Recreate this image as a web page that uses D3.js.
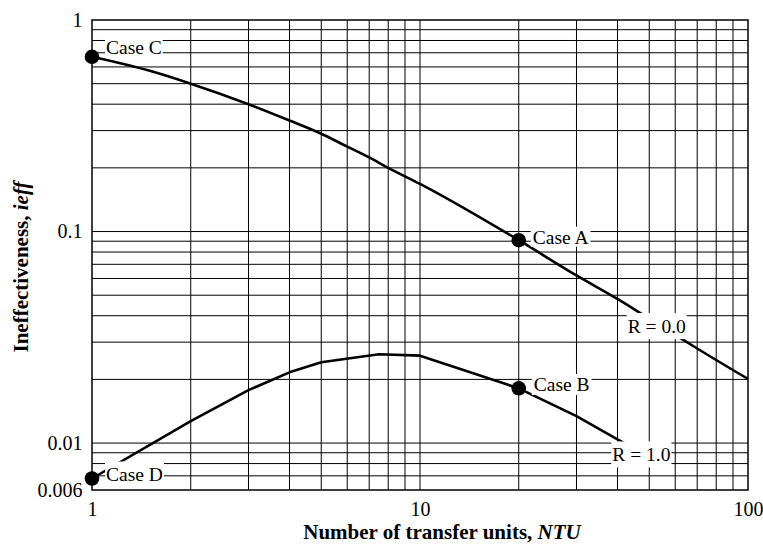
<!DOCTYPE html>
<html>
<head>
<meta charset="utf-8">
<script src="https://cdn.jsdelivr.net/npm/d3@7/dist/d3.min.js"></script>
<style>
  html, body { margin: 0; padding: 0; background: #fff; }
  svg { display: block; }
  text { font-family: "Liberation Serif", "Times New Roman", Times, serif; fill: #000; }
</style>
</head>
<body>
<svg id="chart" width="763" height="554"></svg>
<script>
// ---- data ----
const ntuR0  = [1, 1.5, 2, 3, 4, 5, 6, 7, 8, 10, 20, 30, 40, 50, 60, 70, 100];
const ieffR0 = [0.67, 0.575, 0.50, 0.40, 0.335, 0.29, 0.252, 0.224, 0.20, 0.168, 0.091, 0.062, 0.048, 0.0387, 0.0325, 0.028, 0.0201];

const ntuR1  = [1, 2, 3, 4, 5, 7.5, 10, 20, 30, 40, 50];
const ieffR1 = [0.0068, 0.0127, 0.0178, 0.0216, 0.0241, 0.0263, 0.0259, 0.01815, 0.0134, 0.0104, 0.0086];

const caseNames = ["Case C", "Case A", "Case B", "Case D"];
const caseNTU   = [1, 20, 20, 1];
const caseIeff  = [0.67, 0.091, 0.01815, 0.0068];

const curveLabels = ["R = 0.0", "R = 1.0"];

const xTickValues = [1, 10, 100];
const xTickLabels = ["1", "10", "100"];
const yTickValues = [0.006, 0.01, 0.1, 1];
const yTickLabels = ["0.006", "0.01", "0.1", "1"];

(function () {
// ---- layout ----
const mLeft = 92, mRight = 748, mTop = 20, mBottom = 490;
const svg = d3.select("#chart");

const x = d3.scaleLog().domain([1, 100]).range([mLeft, mRight]);
const y = d3.scaleLog().domain([0.006, 1]).range([mBottom, mTop]);

// grid
const grid = svg.append("g").attr("stroke", "#000").attr("stroke-width", 1);
x.ticks().filter(v => v > 1 && v < 100).forEach(v => {
  grid.append("line").attr("x1", x(v)).attr("x2", x(v)).attr("y1", mTop).attr("y2", mBottom);
});
y.ticks().filter(v => v > 0.006 && v < 1).forEach(v => {
  grid.append("line").attr("x1", mLeft).attr("x2", mRight).attr("y1", y(v)).attr("y2", y(v));
});

// border
svg.append("rect").attr("x", mLeft).attr("y", mTop)
  .attr("width", mRight - mLeft).attr("height", mBottom - mTop)
  .attr("fill", "none").attr("stroke", "#000").attr("stroke-width", 1.5);

// axes labels
const xAxis = d3.axisBottom(x).tickValues(xTickValues)
  .tickFormat((d, i) => xTickLabels[i]).tickSize(0).tickPadding(12);
const gx = svg.append("g").attr("transform", `translate(0,${mBottom})`).call(xAxis);
gx.select(".domain").remove();
gx.selectAll("text").attr("font-size", 20).attr("font-family", "Liberation Serif, Times New Roman, serif").attr("fill", "#000");

const yAxis = d3.axisLeft(y).tickValues(yTickValues)
  .tickFormat((d, i) => yTickLabels[i]).tickSize(0).tickPadding(9.5);
const gy = svg.append("g").attr("transform", `translate(${mLeft},0)`).call(yAxis);
gy.select(".domain").remove();
gy.selectAll("text").attr("font-size", 20).attr("font-family", "Liberation Serif, Times New Roman, serif").attr("fill", "#000");

// curves
const lineSmooth = d3.line().x(d => x(d[0])).y(d => y(d[1])).curve(d3.curveMonotoneX);
const lineStraight = d3.line().x(d => x(d[0])).y(d => y(d[1]));
svg.append("path").datum(d3.zip(ntuR0, ieffR0)).attr("d", lineSmooth)
  .attr("fill", "none").attr("stroke", "#000").attr("stroke-width", 2.6).attr("stroke-linejoin", "round");
svg.append("path").datum(d3.zip(ntuR1, ieffR1)).attr("d", lineStraight)
  .attr("fill", "none").attr("stroke", "#000").attr("stroke-width", 2.6).attr("stroke-linejoin", "round");

// labels with white boxes
function boxedLabel(txt, tx, ty, padX, padTop, padBottom) {
  const g = svg.append("g");
  const rect = g.append("rect").attr("fill", "#fff");
  const t = g.append("text").attr("x", tx).attr("y", ty).attr("font-size", 19.5).text(txt);
  const bb = t.node().getBBox();
  rect.attr("x", bb.x - padX).attr("y", bb.y - padTop)
      .attr("width", bb.width + 2 * padX).attr("height", bb.height + padTop + padBottom);
}

const caseOffsets = [[14, -2.7, 1, 0, -1], [14, 3.5, 2, 0, -1], [15, 2.7, 2, 0, 0], [14, 2, 1, 2, 0]];
caseNames.forEach((n, i) => {
  const o = caseOffsets[i];
  boxedLabel(n, x(caseNTU[i]) + o[0], y(caseIeff[i]) + o[1], o[2], o[3], o[4]);
});

// curve labels (centered at a chart position)
const curveLabelPos = [[52.7, 0.0355], [47.3, 0.00878]];
curveLabels.forEach((n, i) => {
  const g = svg.append("g");
  const rect = g.append("rect").attr("fill", "#fff");
  const t = g.append("text").attr("x", x(curveLabelPos[i][0])).attr("y", y(curveLabelPos[i][1]) + 6.4)
    .attr("text-anchor", "middle").attr("font-size", 19.5).text(n);
  const bb = t.node().getBBox();
  rect.attr("x", bb.x - 1).attr("y", bb.y - 3).attr("width", bb.width + 2).attr("height", bb.height + 5);
});

// dots
caseNames.forEach((n, i) => {
  svg.append("circle").attr("cx", x(caseNTU[i])).attr("cy", y(caseIeff[i])).attr("r", 7.3).attr("fill", "#000");
});

// axis titles
const xt = svg.append("text").attr("x", 442).attr("y", 539).attr("text-anchor", "middle")
  .attr("font-size", 21).attr("font-weight", "bold");
xt.append("tspan").text("Number of transfer units, ");
xt.append("tspan").attr("font-style", "italic").text("NTU");

const yt = svg.append("text").attr("transform", "translate(28,267) rotate(-90)").attr("text-anchor", "middle")
  .attr("font-size", 21).attr("font-weight", "bold");
yt.append("tspan").text("Ineffectiveness, ");
yt.append("tspan").attr("font-style", "italic").text("ieff");
})();
</script>
</body>
</html>
